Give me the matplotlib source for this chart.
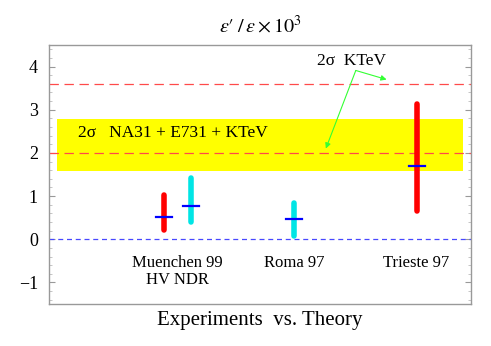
import matplotlib
matplotlib.use("Agg")
import matplotlib.pyplot as plt

# --- data ---
bar_x = [2.72, 3.36, 5.81, 8.71]
bar_low = [0.21, 0.39, 0.08, 0.66]
bar_high = [1.02, 1.41, 0.83, 3.14]
bar_central = [0.52, 0.77, 0.46, 1.70]
bar_colors = ["#ff0000", "#00e5e5", "#00e5e5", "#ff0000"]

group_labels = ["Muenchen 99\nHV NDR", "Roma 97", "Trieste 97"]
group_x = [3.04, 5.81, 8.71]

band_low, band_high = 1.58, 2.78
band_xmin, band_xmax = 0.19, 9.81
ktev_lines = [2.0, 3.6]
yticks = [-1, 0, 1, 2, 3, 4]

plt.rcParams['font.family'] = ['Liberation Serif', 'DejaVu Serif']
plt.rcParams['mathtext.fontset'] = 'stix'

fig = plt.figure(figsize=(4.91, 3.46), dpi=100)
ax = fig.add_axes([49/491, 1-304/346, 422/491, 259/346])
ax.set_xlim(0, 10)
ax.set_ylim(-1.5, 4.5)

ax.fill_between([band_xmin, band_xmax], band_low, band_high, color="#ffff00", lw=0, zorder=1)
for yv in ktev_lines:
    ax.axhline(yv, color="#ff4a4a", lw=0.9, dashes=(7.5, 4.5), zorder=2)
ax.axhline(0, color="#4848ff", lw=0.9, dashes=(4, 3), zorder=2)

for x, lo, hi, c, m in zip(bar_x, bar_low, bar_high, bar_colors, bar_central):
    ax.plot([x, x], [lo, hi], color=c, lw=4, solid_capstyle='round', zorder=3)
    ax.plot([x - 0.19, x + 0.19], [m, m], color="#0000ff", lw=1.6, zorder=4)

ax.text(0.69, 2.45, "2\u03c3   NA31 + E731 + KTeV", fontsize=12.5, va='center', ha='left', zorder=5)
ax.text(6.34, 4.12, "2\u03c3  KTeV", fontsize=12.5, va='center', ha='left', zorder=5)

arr = dict(arrowstyle='-|>', color="#33ff33", lw=0.8, mutation_scale=8, shrinkA=0, shrinkB=0)
ax.annotate("", xy=(8.0, 3.70), xytext=(7.27, 3.91), arrowprops=arr, zorder=5)
ax.annotate("", xy=(6.56, 2.10), xytext=(7.27, 3.91), arrowprops=arr, zorder=5)

for gx, gl in zip(group_x, group_labels):
    ax.text(gx, -0.36, gl, fontsize=12, ha='center', va='top', linespacing=1.1)

ax.set_title(r"$\varepsilon\prime\;/\,\varepsilon \times 10^{3}$", fontsize=14.5, pad=9)
fig.text(260/491, 1-320/346, "Experiments  vs. Theory", fontsize=15, ha='center', va='center')

for s in ax.spines.values():
    s.set_color("#999999")
    s.set_linewidth(1)
ax.set_xticks([])
ax.set_yticks(yticks)
ax.set_yticklabels([("\u2212" + str(-v)) if v < 0 else str(v) for v in yticks])
ax.set_yticks([v / 5 for v in range(-7, 23)], minor=True)
ax.tick_params(axis='y', which='major', direction='in', length=4, color="#999999",
               left=True, right=True, labelsize=13, pad=8)
ax.tick_params(axis='y', which='minor', direction='in', length=2, color="#bbbbbb",
               left=True, right=True)

fig.savefig("out.png", dpi=100)
